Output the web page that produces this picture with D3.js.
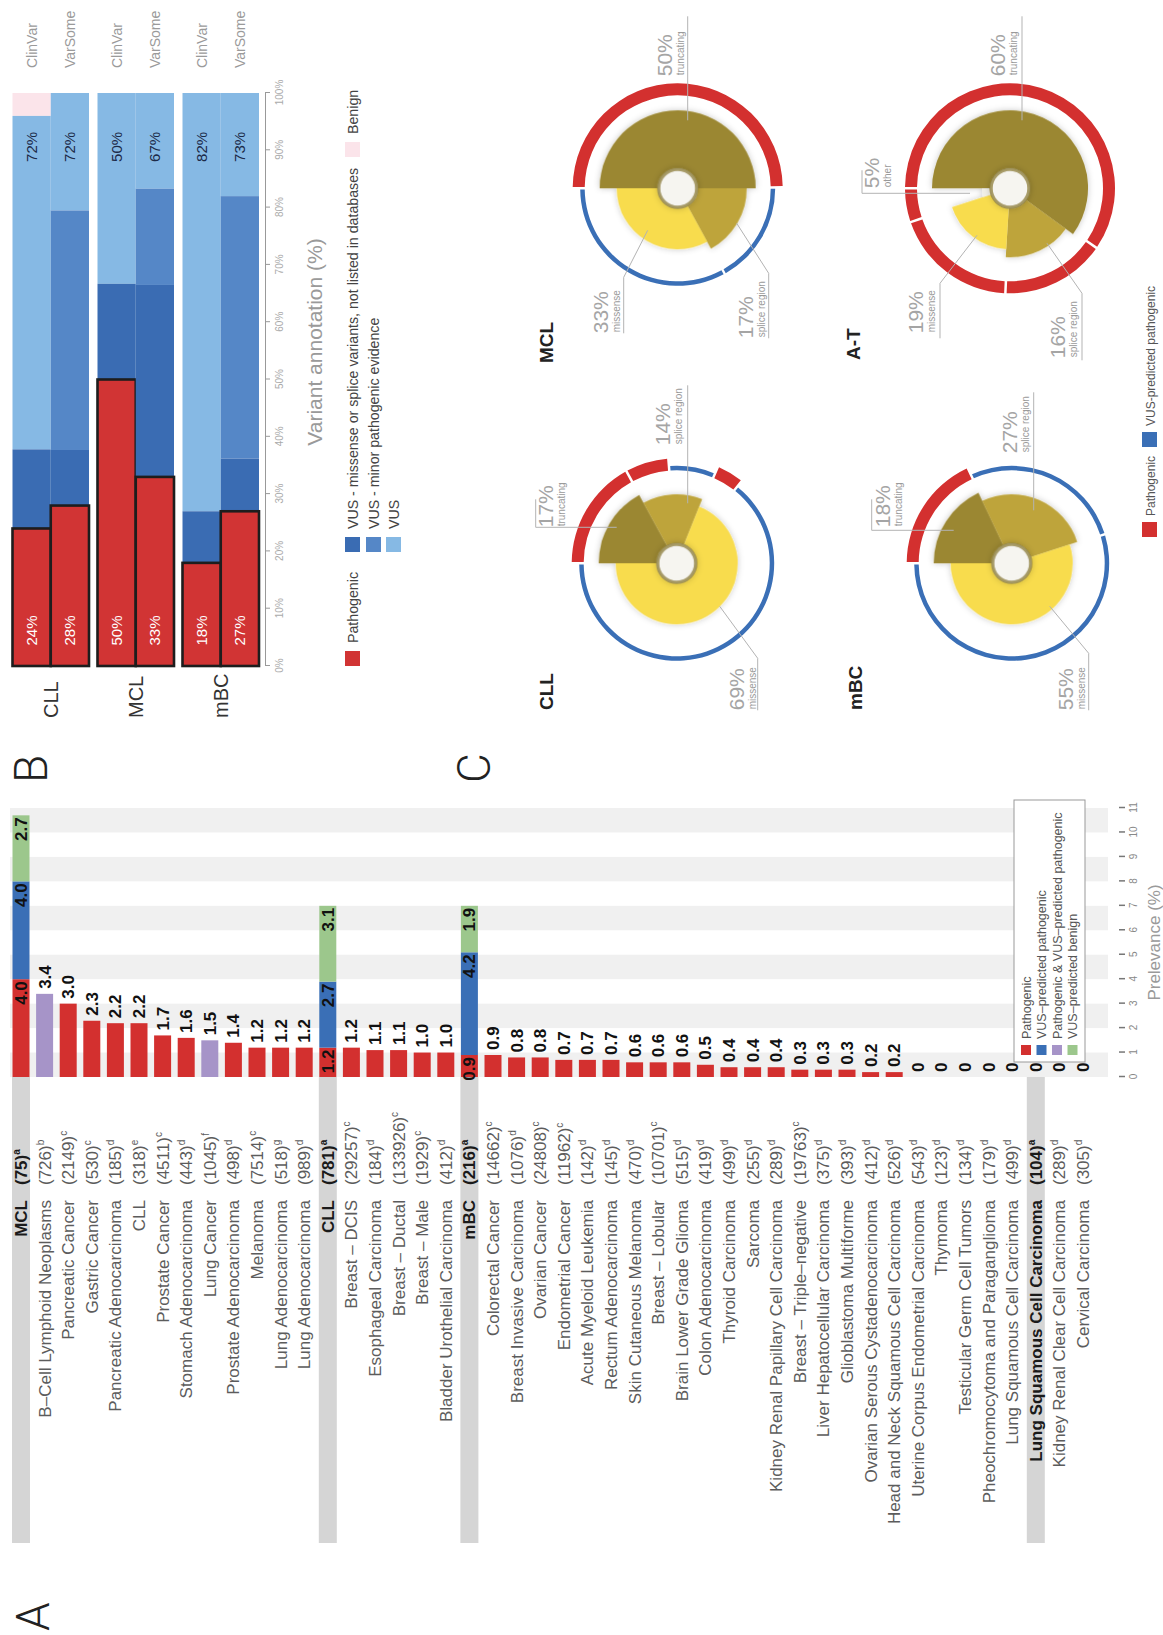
<!DOCTYPE html>
<html>
<head>
<meta charset="utf-8">
<script src="https://cdn.jsdelivr.net/npm/d3@7"></script>
<style>
body{margin:0;background:#fff;}
text{font-family:"Liberation Sans",Arial,Helvetica,sans-serif;}
</style>
</head>
<body>
<div id="fig"></div>
<script>

//-PANEL A DATA-------------------------------------------------------------//
var rowNames = ["MCL","B–Cell Lymphoid Neoplasms","Pancreatic Cancer","Gastric Cancer","Pancreatic Adenocarcinoma","CLL",
    "Prostate Cancer","Stomach Adenocarcinoma","Lung Cancer","Prostate Adenocarcinoma","Melanoma","Lung Adenocarcinoma",
    "Lung Adenocarcinoma","CLL","Breast – DCIS","Esophageal Carcinoma","Breast – Ductal","Breast – Male",
    "Bladder Urothelial Carcinoma","mBC","Colorectal Cancer","Breast Invasive Carcinoma","Ovarian Cancer",
    "Endometrial Cancer","Acute Myeloid Leukemia","Rectum Adenocarcinoma","Skin Cutaneous Melanoma","Breast – Lobular",
    "Brain Lower Grade Glioma","Colon Adenocarcinoma","Thyroid Carcinoma","Sarcoma","Kidney Renal Papillary Cell Carcinoma",
    "Breast – Triple–negative","Liver Hepatocellular Carcinoma","Glioblastoma Multiforme","Ovarian Serous Cystadenocarcinoma",
    "Head and Neck Squamous Cell Carcinoma","Uterine Corpus Endometrial Carcinoma","Thymoma","Testicular Germ Cell Tumors",
    "Pheochromocytoma and Paraganglioma","Lung Squamous Cell Carcinoma","Lung Squamous Cell Carcinoma",
    "Kidney Renal Clear Cell Carcinoma","Cervical Carcinoma"];
var rowCounts = [75,726,2149,530,185,318,4511,443,1045,498,7514,518,989,
    781,29257,184,133926,1929,412,
    216,14662,1076,24808,11962,142,145,470,10701,515,419,499,255,289,19763,375,393,412,526,
    543,123,134,179,499,104,289,305];
// reference "a" = the cohorts of this study (bold rows)
var rowRefs = ["a","b","c","c","d","e","c","d","f","d","c","g","d",
    "a","c","d","c","c","d",
    "a","c","d","c","c","d","d","d","c","d","d","d","d","d","c","d","d","d","d",
    "d","d","d","d","d","a","d","d"];
var prevPathogenic = [4.0,3.4,3.0,2.3,2.2,2.2,1.7,1.6,1.5,1.4,1.2,1.2,1.2,
    1.2,1.2,1.1,1.1,1.0,1.0,
    0.9,0.9,0.8,0.8,0.7,0.7,0.7,0.6,0.6,0.6,0.5,0.4,0.4,0.4,0.3,0.3,0.3,0.2,0.2,
    0,0,0,0,0,0,0,0];
var prevVusPathogenic = [4.0,0,0,0,0,0,0,0,0,0,0,0,0,
    2.7,0,0,0,0,0,
    4.2,0,0,0,0,0,0,0,0,0,0,0,0,0,0,0,0,0,0,
    0,0,0,0,0,0,0,0];
var prevVusBenign = [2.7,0,0,0,0,0,0,0,0,0,0,0,0,
    3.1,0,0,0,0,0,
    1.9,0,0,0,0,0,0,0,0,0,0,0,0,0,0,0,0,0,0,
    0,0,0,0,0,0,0,0];
// "PV" = pathogenic & VUS-predicted pathogenic (purple)
var barKind = ["P","PV","P","P","P","P","P","P","PV","P","P","P","P",
    "P","P","P","P","P","P",
    "P","P","P","P","P","P","P","P","P","P","P","P","P","P","P","P","P","P","P",
    "P","P","P","P","P","P","P","P"];
var prevTicks = [0,1,2,3,4,5,6,7,8,9,10,11];
var legendA = ["Pathogenic","VUS–predicted pathogenic","Pathogenic & VUS–predicted pathogenic","VUS–predicted benign"];

//-PANEL B DATA-------------------------------------------------------------//
var cohortsB = ["CLL","MCL","mBC"];
var databasesB = ["ClinVar","VarSome"];
var annotClasses = ["Pathogenic","VUS - missense or splice variants, not listed in databases",
    "VUS - minor pathogenic evidence","VUS","Benign"];
// % per class, in the order of annotClasses
var annotCLL = [[24,13.8,0,58.2,4],[28,9.7,41.8,20.5,0]];
var annotMCL = [[50,16.7,0,33.3,0],[33,33.5,16.8,16.7,0]];
var annotMBC = [[18,9,0,73,0],[27,9.2,45.8,18,0]];
var annotTicks = [0,10,20,30,40,50,60,70,80,90,100];

//-PANEL C DATA-------------------------------------------------------------//
var donutNames = ["CLL","MCL","mBC","A-T"];
var variantTypes = ["truncating","splice region","missense","other"];
var shareCLL = [17,14,69,0];
var shareMCL = [50,17,33,0];
var shareMBC = [18,27,55,0];
var shareAT = [60,16,19,5];
// outer ring: P = pathogenic, V = VUS-predicted pathogenic
var ringCLL = [["P",17],["P",6.5],["V",7.5],["P",4],["V",65]];
var ringMCL = [["P",50],["V",17],["V",33]];
var ringMBC = [["P",18],["V",27],["V",55]];
var ringAT = [["P",60],["P",16],["P",19],["P",5]];

//-LAYOUT-------------------------------------------------------------------//
// the figure is drawn lying on its side: build it in a 1635 x 1163 frame, then turn it
var W = 1635, H = 1163;
var colRed = "#d3302f", colBlue = "#3a6fb6", colPurple = "#a694c8", colGreen = "#9cc78c";
var bRed = "#d13434", bDark = "#3a6cb3", bMid = "#5587c7", bLight = "#86b9e4", bPink = "#fbe4ea";
var wedgeCol = ["#9b8733","#bea43b","#f8dc4e","#f1efe6"];
var wedgeR = [78, 69, 61, 28];

var svg = d3.select("#fig").append("svg")
    .attr("width", H)
    .attr("height", W)
    .style("display", "block")
    ;
var defs = svg.append("defs");
defs.append("filter")
    .attr("id", "shadow")
    .attr("x", "-30%").attr("y", "-30%").attr("width", "160%").attr("height", "160%")
    .append("feDropShadow")
    .attr("dx", 0).attr("dy", 0)
    .attr("stdDeviation", 3)
    .attr("flood-color", "#000")
    .attr("flood-opacity", 0.22)
    ;
svg.append("rect").attr("width", H).attr("height", W).attr("fill", "#fff");

var root = svg.append("g")
    .attr("transform", `translate(0,${W}) rotate(-90)`)
    ;

function panelLetter(t, x, y){
    root.append("text")
        .attr("x", x).attr("y", y)
        .attr("font-size", 46)
        .attr("font-weight", 300)
        .style("font-family", "Roboto, 'Liberation Sans', sans-serif")
        .attr("fill", "#222")
        .text(t);
}
panelLetter("A", 4, 49);
panelLetter("B", 852, 47);
panelLetter("C", 852, 490);

//-PANEL A------------------------------------------------------------------//
var rowY = d3.scalePoint()
    .domain(d3.range(rowNames.length))
    .range([21, 21 + 45 * 23.6])
    ;
var xA = d3.scaleLinear()
    .domain([0, 11])
    .range([558, 827])
    ;
var gA = root.append("g").attr("class", "panelA");

gA.selectAll("rect.stripe")
    .data(prevTicks.filter(d => d % 2 === 0 && d < 11))
    .enter().append("rect")
    .attr("class", "stripe")
    .attr("x", d => xA(d))
    .attr("width", d => xA(d + 1) - xA(d))
    .attr("y", 10)
    .attr("height", 1098)
    .attr("fill", "#f0f0f0")
    ;

var rows = rowNames.map((n, i) => ({
    i: i, name: n, count: rowCounts[i], ref: rowRefs[i], cohort: rowRefs[i] === "a",
    segs: [
        [prevPathogenic[i], barKind[i] === "PV" ? colPurple : colRed],
        [prevVusPathogenic[i], colBlue],
        [prevVusBenign[i], colGreen]
    ]
}));
rows.forEach(r => {
    var c = 0;
    r.segs = r.segs.map(s => { var o = {v0: c, v1: c + s[0], val: s[0], color: s[1]}; c += s[0]; return o; });
    r.total = c;
});

gA.selectAll("rect.cohortband")
    .data(rows.filter(r => r.cohort))
    .enter().append("rect")
    .attr("class", "cohortband")
    .attr("x", 92)
    .attr("width", xA(0) - 92)
    .attr("y", r => rowY(r.i) - 9)
    .attr("height", 18)
    .attr("fill", "#d5d5d5")
    ;

var rowG = gA.selectAll("g.row")
    .data(rows)
    .enter().append("g")
    .attr("class", "row")
    .attr("transform", r => `translate(0,${rowY(r.i)})`)
    ;
rowG.append("text")
    .attr("x", 435).attr("y", 6)
    .attr("text-anchor", "end")
    .attr("font-size", 17)
    .attr("font-weight", r => r.cohort ? "bold" : "normal")
    .attr("fill", r => r.cohort ? "#1a1a1a" : "#5c5c5c")
    .text(r => r.name)
    ;
var cnt = rowG.append("text")
    .attr("x", 450).attr("y", 6)
    .attr("font-size", 17)
    .attr("font-weight", r => r.cohort ? "bold" : "normal")
    .attr("fill", r => r.cohort ? "#1a1a1a" : "#5c5c5c")
    ;
cnt.append("tspan").text(r => "(" + r.count + ")");
cnt.append("tspan")
    .attr("font-size", 10)
    .attr("dy", -7)
    .text(r => r.ref)
    ;

rowG.selectAll("rect.seg")
    .data(r => r.segs.filter(s => s.val > 0))
    .enter().append("rect")
    .attr("class", "seg")
    .attr("x", s => xA(s.v0))
    .attr("width", s => xA(s.v1) - xA(s.v0))
    .attr("y", -8.5)
    .attr("height", 17)
    .attr("fill", s => s.color)
    ;
var fmt = d => d === 0 ? "0" : d3.format(".1f")(d);
rowG.each(function(r){
    var g = d3.select(this);
    if (r.cohort && r.total > 0){
        r.segs.filter(s => s.val > 0).forEach(s => {
            g.append("text")
                .attr("x", xA(s.v1) - 2).attr("y", 6)
                .attr("text-anchor", "end")
                .attr("font-size", 17).attr("font-weight", "bold")
                .attr("fill", "#111")
                .text(fmt(s.val));
        });
    } else {
        g.append("text")
            .attr("x", xA(r.total) + 5).attr("y", 6)
            .attr("font-size", 17).attr("font-weight", "bold")
            .attr("fill", "#111")
            .text(fmt(r.total));
    }
});

var axA = gA.append("g")
    .attr("class", "axis")
    .attr("transform", "translate(0,1119)")
    .call(d3.axisBottom(xA).tickValues(prevTicks).tickSize(6).tickPadding(5))
    ;
axA.select(".domain").remove();
axA.selectAll("line").attr("stroke", "#777").attr("stroke-width", 1.5);
axA.selectAll("text").attr("fill", "#888").attr("font-size", 10);
gA.append("text")
    .attr("x", (xA(0) + xA(11)) / 2).attr("y", 1160)
    .attr("text-anchor", "middle")
    .attr("font-size", 17)
    .attr("fill", "#9a9a9a")
    .text("Prelevance (%)")
    ;

var legA = gA.append("g").attr("transform", "translate(573,1014)");
legA.append("rect")
    .attr("width", 262).attr("height", 71)
    .attr("fill", "#fff")
    .attr("stroke", "#999").attr("stroke-width", 1)
    ;
var legAColors = [colRed, colBlue, colPurple, colGreen];
var legAItem = legA.selectAll("g.item")
    .data(legendA)
    .enter().append("g")
    .attr("transform", (d, i) => `translate(7,${12 + i * 15.5})`)
    ;
legAItem.append("rect")
    .attr("y", -5).attr("width", 10).attr("height", 10)
    .attr("fill", (d, i) => legAColors[i])
    ;
legAItem.append("text")
    .attr("x", 16).attr("y", 4.5)
    .attr("font-size", 12.5)
    .attr("fill", "#555")
    .text(d => d)
    ;

//-PANEL B------------------------------------------------------------------//
var gB = root.append("g").attr("class", "panelB");
var xB = d3.scaleLinear().domain([0, 100]).range([969, 1542]);
var cohortBand = d3.scaleBand().domain(cohortsB).range([12.5, 259]).paddingInner(0.1);
var dbBand = d3.scaleBand().domain(databasesB).range([0, cohortBand.bandwidth()]);
var annotB = [annotCLL, annotMCL, annotMBC];
var classCol = [bRed, bDark, bMid, bLight, bPink];

cohortsB.forEach((c, ci) => {
    databasesB.forEach((db, j) => {
        var vals = annotB[ci][j];
        var y0 = cohortBand(c) + dbBand(db);
        var bw = dbBand.bandwidth();
        var acc = 0;
        var segs = vals.map((v, k) => { var o = {a: acc, b: acc + v, k: k}; acc += v; return o; });
        gB.selectAll(null)
            .data(segs.filter(s => s.b > s.a).reverse())
            .enter().append("rect")
            .attr("x", s => xB(s.a))
            .attr("width", s => xB(s.b) - xB(s.a))
            .attr("y", y0)
            .attr("height", bw)
            .attr("fill", s => classCol[s.k])
            .attr("stroke", s => s.k === 0 ? "#1d1d1d" : "none")
            .attr("stroke-width", 2.6)
            ;
        gB.append("text")
            .attr("x", xB(6.2)).attr("y", y0 + bw / 2 + 5)
            .attr("text-anchor", "middle")
            .attr("font-size", 15)
            .attr("fill", "#fff")
            .text(d3.format(".0f")(vals[0]) + "%");
        gB.append("text")
            .attr("x", xB(90.6)).attr("y", y0 + bw / 2 + 5)
            .attr("text-anchor", "middle")
            .attr("font-size", 15)
            .attr("fill", "#1c2a48")
            .text(d3.format(".0f")(vals[1] + vals[2] + vals[3]) + "%");
        gB.append("text")
            .attr("x", 1567).attr("y", y0 + bw / 2 + 5)
            .attr("font-size", 14)
            .attr("fill", "#9a9a9a")
            .text(db);
    });
    gB.append("text")
        .attr("x", 917).attr("y", cohortBand(c) + cohortBand.bandwidth() / 2 + 7)
        .attr("font-size", 20)
        .attr("fill", "#333")
        .text(c);
});

var axB = gB.append("g")
    .attr("transform", "translate(0,265)")
    .call(d3.axisBottom(xB).tickValues(annotTicks).tickFormat(d => d + "%").tickSize(5).tickPadding(6))
    ;
axB.select(".domain").attr("stroke", "#999");
axB.selectAll("line").attr("stroke", "#999");
axB.selectAll("text").attr("fill", "#aaa").attr("font-size", 10);
gB.append("text")
    .attr("x", 1293).attr("y", 322)
    .attr("text-anchor", "middle")
    .attr("font-size", 21)
    .attr("font-weight", 300)
    .attr("fill", "#9a9a9a")
    .text("Variant annotation (%)")
    ;

// legend B
var legBPos = [[969, 345], [1083, 345], [1083, 366], [1083, 386], [1478, 345]];
annotClasses.forEach((c, k) => {
    gB.append("rect")
        .attr("x", legBPos[k][0]).attr("y", legBPos[k][1])
        .attr("width", 15).attr("height", 15)
        .attr("fill", classCol[k]);
    gB.append("text")
        .attr("x", legBPos[k][0] + 23).attr("y", legBPos[k][1] + 13)
        .attr("font-size", 14.2)
        .attr("fill", "#444")
        .text(c);
});

//-PANEL C------------------------------------------------------------------//
var gC = root.append("g").attr("class", "panelC");
var donutCenter = {"CLL": [1071.7, 676.7], "MCL": [1446.7, 677.7], "mBC": [1071.7, 1011.7], "A-T": [1446.7, 1010]};
var donutTitle = {"CLL": [925, 553], "MCL": [1272, 553], "mBC": [925, 862], "A-T": [1275, 860]};
// label placement per variant type, relative to the donut centre (null = no label)
var labelPos = {
    "CLL": [{tx: 36, py: -124, line: [[36,-60],[36,-141],[64,-141]]},
            {tx: 118, py: -7, line: [[60,11],[178,11]]},
            {tx: -147, py: 67, line: [[-147,81],[-95,81],[-43,43]]},
            null],
    "MCL": [{tx: 112, py: -6, line: [[68,10],[172,10]]},
            {tx: -150, py: 75, line: [[-150,91],[-85,91],[-35,59]]},
            {tx: -145, py: -70, line: [[-145,-54],[-89,-54],[-42,-30]]},
            null],
    "mBC": [{tx: 36, py: -122, line: [[33,-58],[33,-140],[64,-140]]},
            {tx: 110, py: 5, line: [[53,22],[171,22]]},
            {tx: -147, py: 61, line: [[-147,77],[-90,77],[-43,38]]},
            null],
    "A-T": [{tx: 112, py: -5, line: [[68,12],[172,12]]},
            {tx: -170, py: 55, line: [[-172,72],[-105,72],[-55,37]]},
            {tx: -145, py: -87, line: [[-150,-70],[-95,-70],[-47,-33]]},
            {tx: 0, py: -131, line: [[-5,-40],[-5,-148],[18,-148]]}]
};
var shares = [shareCLL, shareMCL, shareMBC, shareAT];
var rings = [ringCLL, ringMCL, ringMBC, ringAT];
var arc = d3.arc();
var lineGen = d3.line();

donutNames.forEach((name, di) => {
    var c = donutCenter[name];
    var g = gC.append("g").attr("transform", `translate(${c[0]},${c[1]})`);

    var ringArcs = d3.pie().sort(null).value(d => d[1]).padAngle(0.018)(rings[di]);
    g.selectAll("path.ring")
        .data(ringArcs)
        .enter().append("path")
        .attr("class", "ring")
        .attr("d", d => arc({innerRadius: 93, outerRadius: d.data[0] === "P" ? 105 : 97.5,
            startAngle: d.startAngle, endAngle: d.endAngle, padAngle: d.padAngle}))
        .attr("fill", d => d.data[0] === "P" ? colRed : colBlue)
        ;

    var wedges = d3.pie().sort(null).value(d => d)(shares[di]);
    var wg = g.append("g").attr("filter", "url(#shadow)");
    wg.selectAll("path.wedge")
        .data(wedges.filter(d => d.data > 0))
        .enter().append("path")
        .attr("class", "wedge")
        .attr("d", d => arc({innerRadius: 20, outerRadius: wedgeR[d.index],
            startAngle: d.startAngle, endAngle: d.endAngle}))
        .attr("fill", d => wedgeCol[d.index])
        ;
    g.append("circle")
        .attr("r", 19)
        .attr("fill", "#f6f5f0")
        .attr("stroke", "#8e7e3a")
        .attr("stroke-opacity", 0.75)
        .attr("stroke-width", 3.5)
        .attr("filter", "url(#shadow)")
        ;

    labelPos[name].forEach((lp, k) => {
        if (!lp || shares[di][k] === 0) return;
        g.append("path")
            .attr("d", lineGen(lp.line))
            .attr("fill", "none")
            .attr("stroke", "#b3b3b3")
            .attr("stroke-width", 1)
            ;
        g.append("text")
            .attr("x", lp.tx).attr("y", lp.py)
            .attr("font-size", 21)
            .attr("font-weight", 300)
            .attr("fill", "#a5a5a5")
            .text(shares[di][k] + "%");
        g.append("text")
            .attr("x", lp.tx + 1).attr("y", lp.py + 12)
            .attr("font-size", 10)
            .attr("fill", "#9a9a9a")
            .text(variantTypes[k]);
    });

    gC.append("text")
        .attr("x", donutTitle[name][0]).attr("y", donutTitle[name][1])
        .attr("font-size", 19)
        .attr("font-weight", "bold")
        .attr("fill", "#222")
        .text(name);
});

// legend C
var legC = [["Pathogenic", colRed, 1098], ["VUS-predicted pathogenic", colBlue, 1188]];
legC.forEach(l => {
    gC.append("rect")
        .attr("x", l[2]).attr("y", 1142)
        .attr("width", 15).attr("height", 15)
        .attr("fill", l[1]);
    gC.append("text")
        .attr("x", l[2] + 21).attr("y", 1154.5)
        .attr("font-size", 12)
        .attr("fill", "#555")
        .text(l[0]);
});

</script>
</body>
</html>
